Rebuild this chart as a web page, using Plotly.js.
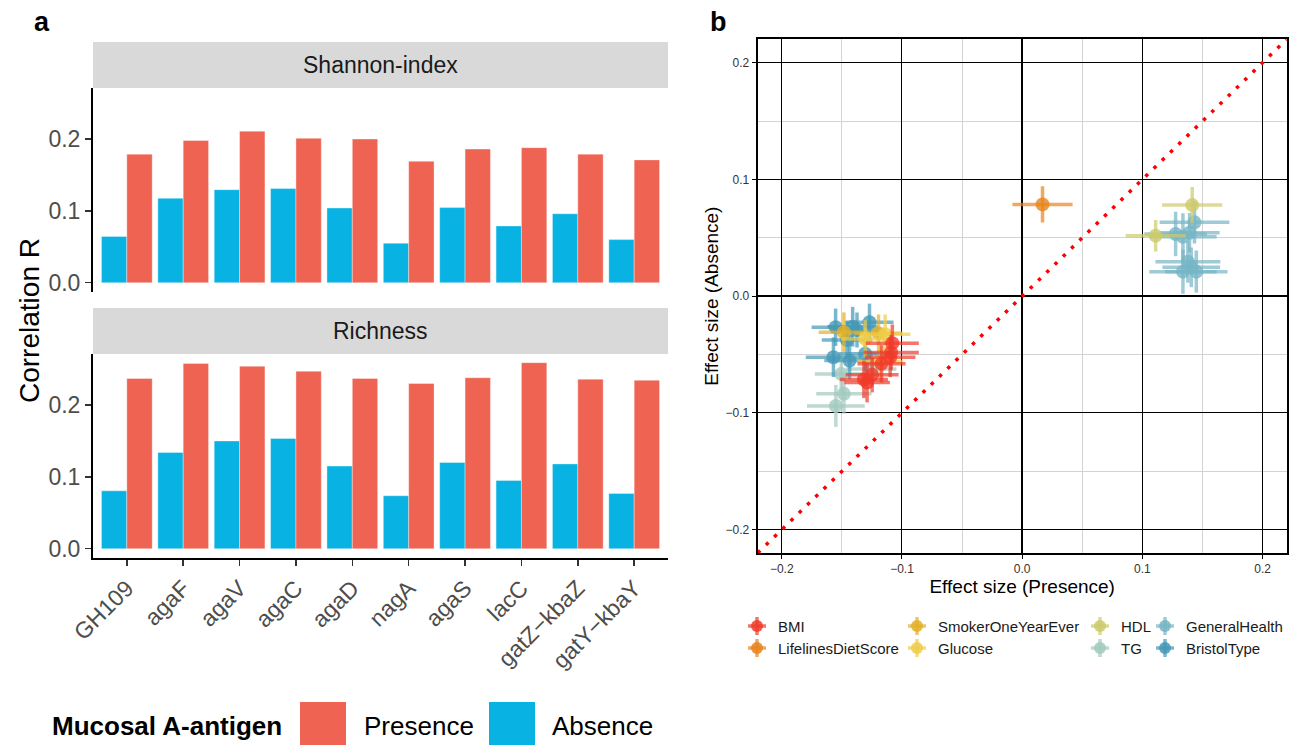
<!DOCTYPE html>
<html>
<head>
<meta charset="utf-8">
<script src="https://cdn.plot.ly/plotly-3.0.1.min.js"></script>
<style>html,body{margin:0;padding:0;background:#fff;}#chart{width:1298px;height:745px;}</style>
</head>
<body>
<div id="chart"></div>
<script>
// ---------- Panel a data ----------
const genes = ['GH109','agaF','agaV','agaC','agaD','nagA','agaS','lacC','gatZ−kbaZ','gatY−kbaY'];
const shannonAbsence  = [0.0645,0.1175,0.1295,0.131,0.104,0.055,0.1046,0.079,0.096,0.060];
const shannonPresence = [0.179,0.198,0.211,0.201,0.200,0.169,0.186,0.188,0.179,0.171];
const richnessAbsence  = [0.0806,0.134,0.150,0.1535,0.115,0.0737,0.120,0.095,0.118,0.077];
const richnessPresence = [0.237,0.258,0.254,0.247,0.237,0.230,0.238,0.259,0.236,0.2345];
const facetNames = ['Shannon-index','Richness'];
const groupNames = ['Presence','Absence'];

// ---------- Panel b data ----------
const traits = ['BMI','LifelinesDietScore','SmokerOneYearEver','Glucose','HDL','TG','GeneralHealth','BristolType'];
const bmiX = [-0.108,-0.109,-0.1098,-0.1317,-0.1248,-0.129,-0.117];
const bmiY = [-0.0403,-0.0483,-0.0523,-0.0713,-0.0674,-0.074,-0.058];
const bmiXe = [0.022,0.023,0.021,0.02,0.022,0.019,0.02];
const bmiYe = [0.016,0.015,0.017,0.016,0.015,0.017,0.016];
const dietX = [0.0169];
const dietY = [0.0786];
const dietXe = [0.025];
const dietYe = [0.0155];
const smokerX = [-0.1483,-0.1195];
const smokerY = [-0.0309,-0.0317];
const smokerXe = [0.021,0.02];
const smokerYe = [0.017,0.016];
const glucoseX = [-0.1306,-0.114,-0.118];
const glucoseY = [-0.0366,-0.0326,-0.056];
const glucoseXe = [0.02,0.021,0.019];
const glucoseYe = [0.016,0.017,0.016];
const hdlX = [0.1414,0.111];
const hdlY = [0.078,0.0518];
const hdlXe = [0.025,0.025];
const hdlYe = [0.0155,0.0135];
const tgX = [-0.1505,-0.1483,-0.155,-0.1256];
const tgY = [-0.0666,-0.0837,-0.094,-0.0625];
const tgXe = [0.022,0.023,0.024,0.021];
const tgYe = [0.016,0.017,0.018,0.015];
const ghX = [0.1433,0.1276,0.1337,0.1392,0.1378,0.1337,0.1448,0.1406];
const ghY = [0.0632,0.0532,0.0509,0.0543,0.0295,0.021,0.021,0.0247];
const ghXe = [0.029,0.026,0.028,0.025,0.027,0.028,0.026,0.024];
const ghYe = [0.018,0.019,0.02,0.017,0.018,0.019,0.018,0.017];
const bristolX = [-0.1552,-0.141,-0.1374,-0.127,-0.1457,-0.157,-0.1436,-0.1306];
const bristolY = [-0.0266,-0.0262,-0.029,-0.0224,-0.0375,-0.0523,-0.0552,-0.0494];
const bristolXe = [0.02,0.021,0.022,0.02,0.021,0.023,0.021,0.022];
const bristolYe = [0.016,0.017,0.015,0.016,0.016,0.017,0.016,0.015];
const axisLimits = [-0.22, 0.22];

// ---------- styling ----------
const W = 1298, H = 745;
const px = v => v / W;
const py = v => 1 - v / H;
const FONT = 'Liberation Sans, Arial, sans-serif';
const cPresence = '#EE6352';
const cAbsence = '#08B2E2';
const traitColors = {
  'BMI':'#F03B2A','LifelinesDietScore':'#E8841C','SmokerOneYearEver':'#E3B026',
  'Glucose':'#EFCD48','HDL':'#CDCA6B','TG':'#A3C9BE','GeneralHealth':'#76B5C6','BristolType':'#4398B7'
};
function rgba(hex, a){
  const n = parseInt(hex.slice(1),16);
  return `rgba(${(n>>16)&255},${(n>>8)&255},${n&255},${a})`;
}

const traces = [];
function barTrace(name, y, color, xa, ya){
  return {type:'bar', name:name, x:genes, y:y, xaxis:xa, yaxis:ya,
    marker:{color:color, line:{color:'rgba(255,255,255,0.6)', width:0.6}},
    showlegend:false, hoverinfo:'x+y'};
}
traces.push(barTrace(groupNames[1], shannonAbsence, cAbsence, 'x2', 'y2'));
traces.push(barTrace(groupNames[0], shannonPresence, cPresence, 'x2', 'y2'));
traces.push(barTrace(groupNames[1], richnessAbsence, cAbsence, 'x', 'y'));
traces.push(barTrace(groupNames[0], richnessPresence, cPresence, 'x', 'y'));

// Panel b: diagonal y = x across the axis limits
traces.push({type:'scatter', mode:'lines', x:axisLimits, y:axisLimits, xaxis:'x3', yaxis:'y3',
  line:{color:'#FF0000', width:3.5, dash:'3.5px,8px'}, showlegend:false, hoverinfo:'skip'});

const traitData = {
  'BMI':[bmiX,bmiY,bmiXe,bmiYe],
  'LifelinesDietScore':[dietX,dietY,dietXe,dietYe],
  'SmokerOneYearEver':[smokerX,smokerY,smokerXe,smokerYe],
  'Glucose':[glucoseX,glucoseY,glucoseXe,glucoseYe],
  'HDL':[hdlX,hdlY,hdlXe,hdlYe],
  'TG':[tgX,tgY,tgXe,tgYe],
  'GeneralHealth':[ghX,ghY,ghXe,ghYe],
  'BristolType':[bristolX,bristolY,bristolXe,bristolYe]
};
const drawOrder = ['TG','BristolType','GeneralHealth','HDL','SmokerOneYearEver','Glucose','LifelinesDietScore','BMI'];
drawOrder.forEach(t => {
  const [xs, ys, xe, ye] = traitData[t];
  const c = traitColors[t];
  traces.push({type:'scatter', mode:'markers', name:t, x:xs, y:ys, xaxis:'x3', yaxis:'y3',
    error_x:{type:'data', array:xe, visible:true, color:rgba(c,0.7), thickness:3.5, width:0},
    error_y:{type:'data', array:ye, visible:true, color:rgba(c,0.7), thickness:3.5, width:0},
    marker:{color:rgba(c,0.8), size:14, line:{width:0}},
    showlegend:false});
});

// ---------- shapes & annotations ----------
const shapes = [];
const annotations = [];
const stripBoxes = [[42,88],[308,354]];
stripBoxes.forEach((b,i) => {
  shapes.push({type:'rect', xref:'paper', yref:'paper', x0:px(93), x1:px(668), y0:py(b[1]), y1:py(b[0]),
    fillcolor:'#D9D9D9', line:{width:0}, layer:'below'});
  annotations.push({xref:'paper', yref:'paper', x:px(380.5), y:py((b[0]+b[1])/2), text:facetNames[i],
    showarrow:false, xanchor:'center', yanchor:'middle', font:{family:FONT, size:23, color:'#1A1A1A'}});
});
annotations.push({xref:'paper', yref:'paper', x:px(42), y:py(22), text:'<b>a</b>', showarrow:false,
  xanchor:'center', yanchor:'middle', font:{family:FONT, size:27, color:'#000'}});
annotations.push({xref:'paper', yref:'paper', x:px(718), y:py(22), text:'<b>b</b>', showarrow:false,
  xanchor:'center', yanchor:'middle', font:{family:FONT, size:27, color:'#000'}});
annotations.push({xref:'paper', yref:'paper', x:px(29), y:py(321), text:'Correlation R', textangle:-90,
  showarrow:false, xanchor:'center', yanchor:'middle', font:{family:FONT, size:28, color:'#000'}});
annotations.push({xref:'paper', yref:'paper', x:px(50), y:py(726), text:'<b>Mucosal A-antigen</b>', showarrow:false,
  xanchor:'left', yanchor:'middle', font:{family:FONT, size:26, color:'#000'}});
const legA = [[groupNames[0], cPresence, 300, 362],[groupNames[1], cAbsence, 489, 550]];
legA.forEach(l => {
  shapes.push({type:'rect', xref:'paper', yref:'paper', x0:px(l[2]), x1:px(l[2]+46), y0:py(750), y1:py(702),
    fillcolor:l[1], line:{width:0}});
  annotations.push({xref:'paper', yref:'paper', x:px(l[3]), y:py(726), text:l[0], showarrow:false,
    xanchor:'left', yanchor:'middle', font:{family:FONT, size:26, color:'#000'}});
});
const legB = [
  ['BMI',757,626,776],['LifelinesDietScore',757,648,776],
  ['SmokerOneYearEver',917,626,936],['Glucose',917,648,936],
  ['HDL',1100,626,1119],['TG',1100,648,1119],
  ['GeneralHealth',1165,626,1184],['BristolType',1165,648,1184]
];
legB.forEach(l => {
  const [name, cx, cy, tx] = l;
  const c = traitColors[name];
  shapes.push({type:'line', xref:'paper', yref:'paper', x0:px(cx-9), x1:px(cx+9), y0:py(cy), y1:py(cy),
    line:{color:rgba(c,0.7), width:3.5}});
  shapes.push({type:'line', xref:'paper', yref:'paper', x0:px(cx), x1:px(cx), y0:py(cy-9), y1:py(cy+9),
    line:{color:rgba(c,0.7), width:3.5}});
  shapes.push({type:'circle', xref:'paper', yref:'paper', x0:px(cx-6), x1:px(cx+6), y0:py(cy+6), y1:py(cy-6),
    fillcolor:rgba(c,0.85), line:{width:0}});
  annotations.push({xref:'paper', yref:'paper', x:px(tx), y:py(cy), text:name, showarrow:false,
    xanchor:'left', yanchor:'middle', font:{family:FONT, size:15, color:'#1A1A1A'}});
});

// ---------- axes ----------
const aX = [px(93), px(668)];
const yRangeA = [-0.0125, 0.2715];
const yAxisA = {
  range:yRangeA, tickvals:[0,0.1,0.2], ticktext:['0.0','0.1','0.2'],
  showline:true, linecolor:'#000', linewidth:2, ticks:'outside', ticklen:6, tickwidth:1.5, tickcolor:'#333',
  showgrid:false, zeroline:false, tickfont:{family:FONT, size:23, color:'#4D4D4D'}, fixedrange:true
};
const layout = {
  width:W, height:H, margin:{l:0,r:0,t:0,b:0}, paper_bgcolor:'#fff', plot_bgcolor:'rgba(0,0,0,0)',
  showlegend:false, barmode:'group', bargap:0.1, bargroupgap:0,
  font:{family:FONT},
  xaxis:{domain:aX, anchor:'y', type:'category', range:[-0.6, 9.6], tickangle:-45,
    showline:true, linecolor:'#000', linewidth:2, ticks:'outside', ticklen:6, tickwidth:1.5, tickcolor:'#333',
    showgrid:false, tickfont:{family:FONT, size:23, color:'#4D4D4D'}},
  yaxis:Object.assign({domain:[py(557.7), py(353.7)], anchor:'x'}, yAxisA),
  xaxis2:{domain:aX, anchor:'y2', type:'category', matches:'x', range:[-0.6, 9.6],
    showline:false, showticklabels:false, ticks:'', showgrid:false},
  yaxis2:Object.assign({domain:[py(291.7), py(87.7)], anchor:'x2'}, yAxisA),
  xaxis3:{domain:[px(757.7), px(1286.7)], anchor:'y3', range:axisLimits, tick0:0, dtick:0.1, tickformat:'.1f',
    showline:true, mirror:true, linecolor:'#000', linewidth:2,
    ticks:'outside', ticklen:4, tickcolor:'#000', tickwidth:1,
    showgrid:true, gridcolor:'#000', gridwidth:1,
    minor:{dtick:0.05, tick0:0, showgrid:true, gridcolor:'#D3D3D3', gridwidth:1, ticks:''},
    zeroline:true, zerolinecolor:'#000', zerolinewidth:2.5,
    tickfont:{family:FONT, size:12, color:'#333'},
    title:{text:'Effect size (Presence)', font:{family:FONT, size:19, color:'#000'}, standoff:4}},
  yaxis3:{domain:[py(553), py(39.3)], anchor:'x3', range:axisLimits, tick0:0, dtick:0.1, tickformat:'.1f',
    showline:true, mirror:true, linecolor:'#000', linewidth:2,
    ticks:'outside', ticklen:4, tickcolor:'#000', tickwidth:1,
    showgrid:true, gridcolor:'#000', gridwidth:1,
    minor:{dtick:0.05, tick0:0, showgrid:true, gridcolor:'#D3D3D3', gridwidth:1, ticks:''},
    zeroline:true, zerolinecolor:'#000', zerolinewidth:2.5,
    tickfont:{family:FONT, size:12, color:'#333'},
    title:{text:'Effect size (Absence)', font:{family:FONT, size:19, color:'#000'}, standoff:2}},
  shapes:shapes, annotations:annotations
};
Plotly.newPlot('chart', traces, layout, {displayModeBar:false, staticPlot:true});
</script>
</body>
</html>
